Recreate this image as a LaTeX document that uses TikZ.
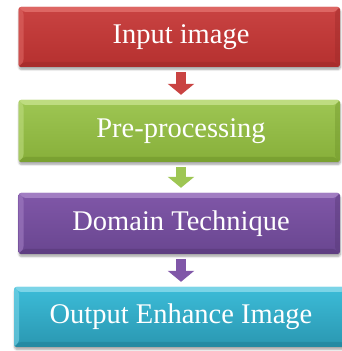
\documentclass[tikz,border=0pt]{standalone}
\usepackage{fontspec}
\setmainfont{Liberation Serif}
\newfontfamily\stagefont{Liberation Serif}
\usetikzlibrary{arrows.meta,shadows.blur}

% stage colours: bevel light / face top / face bottom / bevel dark
\definecolor{redL}{HTML}{DD6663}\definecolor{redT}{HTML}{C94342}\definecolor{redB}{HTML}{B5302F}\definecolor{redD}{HTML}{9C2928}
\definecolor{grnL}{HTML}{BEDC80}\definecolor{grnT}{HTML}{9EC653}\definecolor{grnB}{HTML}{87AF3A}\definecolor{grnD}{HTML}{6E9329}
\definecolor{purL}{HTML}{A17DC2}\definecolor{purT}{HTML}{8057A8}\definecolor{purB}{HTML}{694690}\definecolor{purD}{HTML}{553774}
\definecolor{cyaL}{HTML}{7BD4E7}\definecolor{cyaT}{HTML}{3CBCD8}\definecolor{cyaB}{HTML}{2A97B1}\definecolor{cyaD}{HTML}{1F7D94}

\tikzset{
  stage/.style n args={4}{
    rectangle, rounded corners=2.5pt, inner sep=0pt,
    text=white, font=\stagefont\fontsize{28.5}{30}\selectfont,
    top color=#2, bottom color=#3,
    blur shadow={shadow xshift=0.5pt, shadow yshift=-2.5pt, shadow blur steps=6, shadow opacity=35},
    path picture={
      \def\bw{5pt}
      \coordinate (nw) at (path picture bounding box.north west);
      \coordinate (ne) at (path picture bounding box.north east);
      \coordinate (sw) at (path picture bounding box.south west);
      \coordinate (se) at (path picture bounding box.south east);
      \fill[#1] (nw) -- (ne) -- ([shift={(-\bw,-\bw)}]ne) -- ([shift={(\bw,-\bw)}]nw) -- cycle;
      \fill[#1, opacity=0.6] (nw) -- ([shift={(\bw,-\bw)}]nw) -- ([shift={(\bw,\bw)}]sw) -- (sw) -- cycle;
      \fill[#4, opacity=0.5] (sw) -- (se) -- ([shift={(-\bw,\bw)}]se) -- ([shift={(\bw,\bw)}]sw) -- cycle;
      \fill[#4, opacity=0.4] (ne) -- (se) -- ([shift={(-\bw,\bw)}]se) -- ([shift={(-\bw,-\bw)}]ne) -- cycle;
    }
  },
  flow/.style={line width=10pt, draw=#1,
    -{Triangle[width=26pt,length=11pt]}, shorten <=5pt, shorten >=5pt}
}

\begin{document}
\begin{tikzpicture}[x=1pt,y=1pt]
  \useasboundingbox (0,0) rectangle (341,351);

  \node[stage={redL}{redT}{redB}{redD}, minimum width=321.5pt, minimum height=60pt]
    (input) at (179.25,314) {\hspace*{3.5pt}Input image};
  \node[stage={grnL}{grnT}{grnB}{grnD}, minimum width=321.5pt, minimum height=62pt]
    (pre) at (179.25,220) {\hspace*{3.5pt}Pre-processing};
  \node[stage={purL}{purT}{purB}{purD}, minimum width=321.5pt, minimum height=61pt]
    (domain) at (179.25,127.5) {\hspace*{3.5pt}Domain Technique};
  \node[stage={cyaL}{cyaT}{cyaB}{cyaD}, minimum width=334pt, minimum height=60pt]
    (output) at (181,34) {Output Enhance Image};

  \draw[flow=redT] ([xshift=1.75pt]input.south) -- ([xshift=1.75pt]pre.north);
  \draw[flow=grnT] ([xshift=1.75pt]pre.south) -- ([xshift=1.75pt]domain.north);
  \draw[flow=purT] ([xshift=1.75pt]domain.south) -- (output.north);
\end{tikzpicture}
\end{document}
